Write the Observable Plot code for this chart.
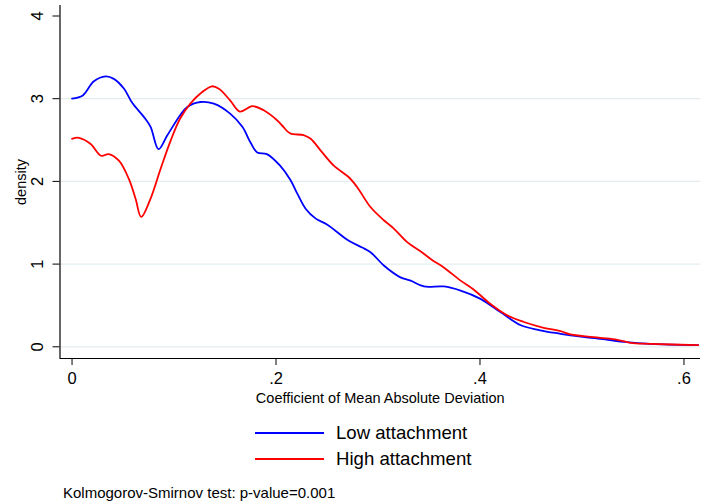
<!DOCTYPE html>
<html>
<head>
<meta charset="utf-8">
<script src="https://cdn.jsdelivr.net/npm/d3@7"></script>
<script src="https://cdn.jsdelivr.net/npm/@observablehq/plot@0.6"></script>
<style>
  html, body { margin: 0; padding: 0; background: #fff; }
  body { width: 703px; height: 503px; position: relative; overflow: hidden;
         font-family: "Liberation Sans", Arial, Helvetica, sans-serif; color: #000; }
  #chart { position: absolute; left: 0; top: 0; }
  .leg { position: absolute; display: flex; align-items: center; font-size: 18.6px; white-space: nowrap; }
  .leg .sw { width: 69px; height: 2px; margin-right: 12px; }
  #caption { position: absolute; left: 63px; top: 484px; font-size: 15px; white-space: nowrap; }
</style>
</head>
<body>
<div id="chart"></div>
<div class="leg" id="leg0" style="left:255px; top:422px;"><div class="sw"></div><span></span></div>
<div class="leg" id="leg1" style="left:255px; top:448px;"><div class="sw"></div><span></span></div>
<div id="caption"></div>
<script>
// ---- Data ----
const seriesNames = ["Low attachment", "High attachment"];
const seriesColors = ["#0000ff", "#ff0000"];

const lowX = [0.000, 0.0106, 0.0214, 0.033, 0.041, 0.051, 0.059, 0.0704, 0.077, 0.0848,
  0.0933, 0.106, 0.113, 0.126, 0.139, 0.155, 0.167, 0.175, 0.1816, 0.191,
  0.204, 0.214, 0.221, 0.229, 0.239, 0.250, 0.271, 0.2845, 0.293, 0.306,
  0.322, 0.332, 0.345, 0.3645, 0.381, 0.4005, 0.420, 0.440, 0.459, 0.479,
  0.4887, 0.518, 0.544, 0.567, 0.614];
const lowY = [3.00, 3.04, 3.21, 3.27, 3.24, 3.12, 2.95, 2.78, 2.66, 2.39,
  2.555, 2.80, 2.90, 2.96, 2.94, 2.82, 2.66, 2.47, 2.35, 2.33,
  2.19, 2.02, 1.85, 1.67, 1.55, 1.48, 1.285, 1.20, 1.14, 0.98,
  0.84, 0.80, 0.73, 0.73, 0.68, 0.58, 0.42, 0.26, 0.20, 0.157,
  0.137, 0.097, 0.056, 0.036, 0.02];

const highX = [0.000, 0.0067, 0.018, 0.0286, 0.036, 0.046, 0.0557, 0.0623, 0.0678, 0.0763,
  0.0868, 0.0966, 0.106, 0.116, 0.1276, 0.137, 0.144, 0.155, 0.1645, 0.1767,
  0.188, 0.201, 0.206, 0.214, 0.227, 0.234, 0.244, 0.2567, 0.2714, 0.2796,
  0.2926, 0.3057, 0.3155, 0.3286, 0.3433, 0.353, 0.3645, 0.381, 0.394, 0.410,
  0.4267, 0.443, 0.4625, 0.479, 0.4887, 0.518, 0.5345, 0.5475, 0.567, 0.614];
const highY = [2.515, 2.527, 2.455, 2.31, 2.33, 2.25, 2.03, 1.79, 1.57, 1.77,
  2.15, 2.49, 2.76, 2.94, 3.08, 3.15, 3.12, 2.98, 2.845, 2.91,
  2.86, 2.74, 2.676, 2.58, 2.56, 2.515, 2.37, 2.19, 2.05, 1.93,
  1.69, 1.53, 1.43, 1.265, 1.14, 1.05, 0.96, 0.80, 0.69, 0.52,
  0.38, 0.30, 0.23, 0.19, 0.149, 0.109, 0.085, 0.048, 0.036, 0.02];

const xTicks = [0, 0.2, 0.4, 0.6];
const yTicks = [0, 1, 2, 3, 4];
const yGrid = [0, 1, 2, 3];
const xDomain = [-0.0118, 0.6162];
const yDomain = [-0.1415, 4.127];

const xTitle = "Coefficient of Mean Absolute Deviation";
const yTitle = "density";
const captionText = "Kolmogorov-Smirnov test: p-value=0.001";

// ---- Build table ----
const rows = [
  ...lowX.map((x, i) => ({x, y: lowY[i], s: seriesNames[0]})),
  ...highX.map((x, i) => ({x, y: highY[i], s: seriesNames[1]}))
];

const fmtX = d => d === 0 ? "0" : String(+d.toFixed(1)).replace(/^0/, "");

const plot = Plot.plot({
  width: 703,
  height: 410,
  marginLeft: 59.5,
  marginRight: 3,
  marginTop: 5,
  marginBottom: 52,
  style: {fontFamily: '"Liberation Sans", Arial, Helvetica, sans-serif', fontSize: "16px", background: "#fff", color: "#000"},
  x: {domain: xDomain, axis: null},
  y: {domain: yDomain, axis: null},
  color: {domain: seriesNames, range: seriesColors},
  marks: [
    Plot.ruleY(yGrid, {stroke: "#e3ecf0", strokeWidth: 1.2}),
    Plot.axisX(xTicks, {tickSize: 7, tickPadding: 7, tickFormat: fmtX, fontSize: 16.5, label: null}),
    Plot.axisY(yTicks, {tickSize: 7, tickFormat: () => "", label: null}),
    Plot.text(yTicks, {y: d => d, text: d => String(d), frameAnchor: "left", dx: -22.3,
      rotate: -90, textAnchor: "middle", lineAnchor: "middle", fontSize: 16.5}),
    Plot.text([yTitle], {text: d => d, frameAnchor: "left", dx: -39, rotate: -90,
      textAnchor: "middle", lineAnchor: "middle", fontSize: 14.5}),
    Plot.text([xTitle], {text: d => d, frameAnchor: "bottom", dy: 39.5,
      textAnchor: "middle", lineAnchor: "middle", fontSize: 14.5}),
    Plot.ruleX([xDomain[0]], {stroke: "#000", strokeWidth: 1.2}),
    Plot.ruleY([yDomain[0]], {stroke: "#000", strokeWidth: 1.2}),
    Plot.line(rows, {x: "x", y: "y", z: "s", stroke: "s", strokeWidth: 1.8, curve: "catmull-rom"})
  ]
});
document.getElementById("chart").appendChild(plot);

// legend + caption
seriesNames.forEach((n, i) => {
  const el = document.getElementById("leg" + i);
  el.querySelector(".sw").style.background = seriesColors[i];
  el.querySelector("span").textContent = n;
});
document.getElementById("caption").textContent = captionText;
</script>
</body>
</html>
